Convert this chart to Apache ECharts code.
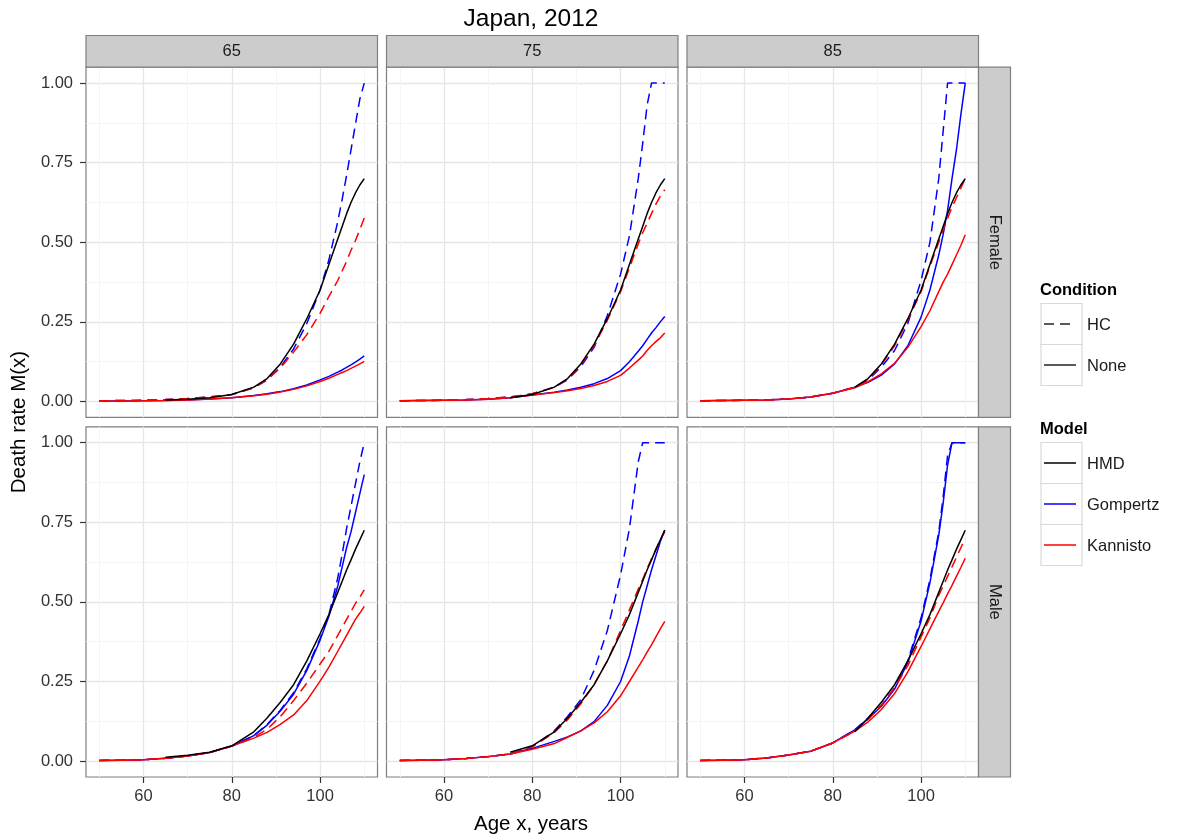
<!DOCTYPE html>
<html><head><meta charset="utf-8">
<script src="https://cdn.jsdelivr.net/npm/echarts@6/dist/echarts.min.js"></script>
<style>html,body{margin:0;padding:0;background:#fff}#c{width:1180px;height:839px}</style>
</head><body><div id="c"></div>
<script>
// ---------------- DATA ----------------
const AGES = [50,55,60,65,70,75,80,85,88,91,94,97,100,102,104,105,106,107,108,109,110];
const COL_AGES = [65, 75, 85];
const COL_LABELS = ['65', '75', '85'];
const ROW_LABELS = ['Female', 'Male'];
const X_TICKS = [60, 80, 100];
const X_MINOR = [50, 70, 90, 110];
const Y_TICKS = [0, 0.25, 0.5, 0.75, 1];
const Y_MINOR = [0.125, 0.375, 0.625, 0.875];

// Observed (HMD) death rates, same data in every column; drawn from the column's age on
const HMD_F = [0.0015,0.0022,0.003,0.005,0.007,0.012,0.022,0.045,0.072,0.118,0.18,0.26,0.35,0.43,0.51,0.55,0.59,0.625,0.655,0.68,0.70];
const HMD_M = [0.004,0.006,0.008,0.012,0.018,0.028,0.048,0.092,0.135,0.185,0.24,0.315,0.40,0.46,0.53,0.565,0.60,0.632,0.665,0.695,0.725];

// Female
const F65_GOMP_HC   = [0.002,0.003,0.004,0.006,0.009,0.014,0.022,0.043,0.068,0.108,0.165,0.245,0.35,0.445,0.565,0.635,0.71,0.79,0.87,0.95,1.0];
const F65_GOMP_NONE = [0.001,0.0015,0.002,0.003,0.005,0.008,0.012,0.019,0.024,0.031,0.040,0.052,0.068,0.079,0.092,0.099,0.107,0.115,0.124,0.133,0.143];
const F65_KANN_HC   = [0.002,0.003,0.004,0.006,0.009,0.014,0.022,0.043,0.068,0.105,0.155,0.21,0.277,0.33,0.38,0.41,0.44,0.475,0.505,0.54,0.576];
const F65_KANN_NONE = [0.001,0.0015,0.002,0.003,0.005,0.008,0.012,0.018,0.023,0.030,0.038,0.049,0.063,0.073,0.085,0.091,0.097,0.104,0.111,0.118,0.126];

const F75_GOMP_HC   = [0.002,0.003,0.004,0.006,0.009,0.014,0.024,0.045,0.068,0.11,0.17,0.27,0.40,0.52,0.70,0.81,0.93,1.0,1.0,1.0,1.0];
const F75_GOMP_NONE = [0.002,0.003,0.004,0.005,0.007,0.012,0.02,0.029,0.036,0.045,0.056,0.072,0.097,0.125,0.158,0.175,0.195,0.215,0.232,0.25,0.267];
const F75_KANN_HC   = [0.002,0.003,0.004,0.006,0.009,0.014,0.024,0.045,0.07,0.115,0.175,0.255,0.345,0.42,0.495,0.53,0.56,0.59,0.62,0.645,0.665];
const F75_KANN_NONE = [0.002,0.003,0.004,0.005,0.007,0.012,0.02,0.028,0.034,0.041,0.05,0.063,0.082,0.105,0.13,0.143,0.16,0.175,0.188,0.2,0.215];

const F85_GOMP_HC   = [0.002,0.003,0.004,0.005,0.008,0.014,0.026,0.045,0.068,0.108,0.16,0.245,0.38,0.50,0.70,0.85,1.0,1.0,1.0,1.0,1.0];
const F85_GOMP_NONE = [0.002,0.003,0.004,0.005,0.008,0.014,0.026,0.045,0.06,0.083,0.118,0.175,0.265,0.35,0.46,0.525,0.60,0.70,0.79,0.90,1.0];
const F85_KANN_HC   = [0.002,0.003,0.004,0.005,0.008,0.014,0.026,0.045,0.07,0.115,0.175,0.255,0.345,0.425,0.50,0.54,0.575,0.61,0.64,0.67,0.70];
const F85_KANN_NONE = [0.002,0.003,0.004,0.005,0.008,0.014,0.026,0.043,0.062,0.087,0.12,0.17,0.235,0.285,0.345,0.375,0.40,0.43,0.46,0.49,0.524];

// Male
const M65_GOMP_HC   = [0.002,0.003,0.004,0.009,0.016,0.027,0.047,0.08,0.115,0.16,0.215,0.29,0.385,0.46,0.575,0.65,0.73,0.80,0.87,0.94,1.0];
const M65_GOMP_NONE = [0.002,0.003,0.004,0.009,0.016,0.027,0.047,0.08,0.113,0.157,0.21,0.285,0.38,0.455,0.55,0.61,0.67,0.72,0.78,0.84,0.90];
const M65_KANN_HC   = [0.002,0.003,0.004,0.009,0.016,0.027,0.047,0.074,0.10,0.14,0.19,0.245,0.305,0.345,0.395,0.42,0.445,0.47,0.495,0.515,0.538];
const M65_KANN_NONE = [0.002,0.003,0.004,0.009,0.016,0.027,0.047,0.072,0.09,0.115,0.145,0.19,0.251,0.295,0.345,0.37,0.395,0.42,0.445,0.465,0.486];

const M75_GOMP_HC   = [0.002,0.003,0.004,0.008,0.014,0.022,0.045,0.095,0.14,0.193,0.285,0.41,0.585,0.73,0.94,1.0,1.0,1.0,1.0,1.0,1.0];
const M75_GOMP_NONE = [0.002,0.003,0.004,0.008,0.014,0.022,0.04,0.062,0.076,0.095,0.124,0.175,0.25,0.33,0.44,0.50,0.55,0.60,0.645,0.69,0.726];
const M75_KANN_HC   = [0.002,0.003,0.004,0.008,0.014,0.022,0.045,0.09,0.13,0.18,0.24,0.315,0.41,0.475,0.54,0.57,0.605,0.635,0.665,0.695,0.72];
const M75_KANN_NONE = [0.002,0.003,0.004,0.008,0.014,0.022,0.037,0.055,0.075,0.095,0.12,0.155,0.205,0.25,0.295,0.318,0.342,0.365,0.39,0.415,0.439];

const M85_GOMP_HC   = [0.002,0.003,0.004,0.01,0.019,0.031,0.057,0.098,0.135,0.175,0.23,0.315,0.45,0.57,0.72,0.83,0.96,1.0,1.0,1.0,1.0];
const M85_GOMP_NONE = [0.002,0.003,0.004,0.01,0.019,0.031,0.057,0.098,0.133,0.172,0.226,0.31,0.44,0.56,0.71,0.81,0.93,1.0,1.0,1.0,1.0];
const M85_KANN_HC   = [0.002,0.003,0.004,0.01,0.019,0.031,0.057,0.094,0.13,0.175,0.23,0.30,0.39,0.45,0.52,0.55,0.58,0.61,0.64,0.67,0.70];
const M85_KANN_NONE = [0.002,0.003,0.004,0.01,0.019,0.031,0.057,0.094,0.123,0.162,0.212,0.28,0.36,0.415,0.47,0.497,0.525,0.552,0.58,0.608,0.637];

const PANELS = [
  {row:0,col:0,hmd:HMD_F,gHC:F65_GOMP_HC,gN:F65_GOMP_NONE,kHC:F65_KANN_HC,kN:F65_KANN_NONE},
  {row:0,col:1,hmd:HMD_F,gHC:F75_GOMP_HC,gN:F75_GOMP_NONE,kHC:F75_KANN_HC,kN:F75_KANN_NONE},
  {row:0,col:2,hmd:HMD_F,gHC:F85_GOMP_HC,gN:F85_GOMP_NONE,kHC:F85_KANN_HC,kN:F85_KANN_NONE},
  {row:1,col:0,hmd:HMD_M,gHC:M65_GOMP_HC,gN:M65_GOMP_NONE,kHC:M65_KANN_HC,kN:M65_KANN_NONE},
  {row:1,col:1,hmd:HMD_M,gHC:M75_GOMP_HC,gN:M75_GOMP_NONE,kHC:M75_KANN_HC,kN:M75_KANN_NONE},
  {row:1,col:2,hmd:HMD_M,gHC:M85_GOMP_HC,gN:M85_GOMP_NONE,kHC:M85_KANN_HC,kN:M85_KANN_NONE}
];

// ---------------- LAYOUT / STYLE ----------------
const FONT = "'Liberation Sans', Arial, Helvetica, sans-serif";
const COL_LEFT = [86, 386.5, 687];
const PANEL_W = 291.5;
const ROW_TOP = [67.2, 426.8];
const PANEL_H = 350.2;
const STRIP_TOP = 35.5;
const STRIP_W = 32;
const BLUE = '#0000ff', RED = '#ff0000', BLACK = '#000000';
const DASH = [10, 6];
const LW = 1.5;

const grids = [], xAxes = [], yAxes = [], series = [];
PANELS.forEach((p, i) => {
  grids.push({left: COL_LEFT[p.col], top: ROW_TOP[p.row], width: PANEL_W, height: PANEL_H,
    show: true, backgroundColor: '#ffffff', borderColor: '#7f7f7f', borderWidth: 1.2});
  const bottomRow = p.row === 1, leftCol = p.col === 0;
  xAxes.push({gridIndex: i, type: 'value', min: 47, max: 113, position: 'bottom',
    axisLine: {show: false, onZero: false},
    axisTick: {show: bottomRow, customValues: X_TICKS, length: 6, lineStyle: {color: '#333', width: 1.2}},
    axisLabel: {show: bottomRow, customValues: X_TICKS, margin: 11, color: '#333', fontSize: 16.5, fontFamily: FONT},
    splitLine: {show: true, lineStyle: {color: '#e6e6e6', width: 1.3}}
  });
  yAxes.push({gridIndex: i, type: 'value', min: -0.05, max: 1.05, position: 'left',
    axisLine: {show: false, onZero: false},
    axisTick: {show: leftCol, customValues: Y_TICKS, length: 6, lineStyle: {color: '#333', width: 1.2}},
    axisLabel: {show: leftCol, customValues: Y_TICKS, margin: 13, color: '#333', fontSize: 16.5, fontFamily: FONT,
      formatter: v => Number(v).toFixed(2)},
    splitLine: {show: true, lineStyle: {color: '#e6e6e6', width: 1.3}}
  });
});
// minor grid lines on companion axes
PANELS.forEach((p, i) => {
  xAxes.push({gridIndex: i, type: 'value', min: 47, max: 113, position: 'top',
    axisLine: {show: false, onZero: false},
    axisTick: {show: false, customValues: X_MINOR},
    axisLabel: {show: false, customValues: X_MINOR},
    splitLine: {show: true, lineStyle: {color: '#f4f4f4', width: 1}}
  });
  yAxes.push({gridIndex: i, type: 'value', min: -0.05, max: 1.05, position: 'right',
    axisLine: {show: false, onZero: false},
    axisTick: {show: false, customValues: Y_MINOR},
    axisLabel: {show: false, customValues: Y_MINOR},
    splitLine: {show: true, lineStyle: {color: '#f4f4f4', width: 1}}
  });
});

function pairs(vals, start) {
  const out = [];
  AGES.forEach((a, k) => { if (a >= start && vals[k] != null) out.push([a, vals[k]]); });
  return out;
}
function line(i, name, vals, color, dashed, start, z) {
  return {type: 'line', name: name, xAxisIndex: i, yAxisIndex: i, data: pairs(vals, start),
    showSymbol: false, symbol: 'none', silent: true, animation: false, z: z,
    lineStyle: {color: color, width: LW, type: dashed ? DASH : 'solid'}};
}
PANELS.forEach((p, i) => {
  series.push(line(i, 'Gompertz HC', p.gHC, BLUE, true, 50, 2));
  series.push(line(i, 'Gompertz None', p.gN, BLUE, false, 50, 2));
  series.push(line(i, 'Kannisto HC', p.kHC, RED, true, 50, 3));
  series.push(line(i, 'Kannisto None', p.kN, RED, false, 50, 3));
  series.push(line(i, 'HMD', p.hmd, BLACK, false, COL_AGES[p.col], 4));
});

// ---------------- GRAPHICS (strips, titles, legend) ----------------
const g = [];
function txt(x, y, text, size, opts) {
  opts = opts || {};
  return {type: 'text', x: x, y: y, rotation: opts.rot || 0, silent: true, z: 10,
    style: {text: text, fill: opts.color || '#000', font: (opts.bold ? 'bold ' : '') + size + 'px ' + FONT,
      align: opts.align || 'center', verticalAlign: 'middle',
      textAlign: opts.align || 'center', textVerticalAlign: 'middle'}};
}
// top strips
COL_LABELS.forEach((lab, c) => {
  g.push({type: 'rect', silent: true, z: 5, shape: {x: COL_LEFT[c], y: STRIP_TOP, width: PANEL_W, height: ROW_TOP[0] - STRIP_TOP},
    style: {fill: '#cccccc', stroke: '#7f7f7f', lineWidth: 1.2}});
  g.push(txt(COL_LEFT[c] + PANEL_W / 2, (STRIP_TOP + ROW_TOP[0]) / 2 + 0.5, lab, 16.5, {color: '#1a1a1a'}));
});
// right strips
ROW_LABELS.forEach((lab, r) => {
  const x0 = COL_LEFT[2] + PANEL_W;
  g.push({type: 'rect', silent: true, z: 5, shape: {x: x0, y: ROW_TOP[r], width: STRIP_W, height: PANEL_H},
    style: {fill: '#cccccc', stroke: '#7f7f7f', lineWidth: 1.2}});
  g.push(txt(x0 + STRIP_W / 2, ROW_TOP[r] + PANEL_H / 2, lab, 16.5, {color: '#1a1a1a', rot: -Math.PI / 2}));
});
// titles
g.push(txt(531, 19, 'Japan, 2012', 24.5));
g.push(txt(531, 824, 'Age x, years', 20.5));
g.push(txt(19, 422, 'Death rate M(x)', 20.5, {rot: Math.PI / 2}));

// legend
const LEG_X = 1041, KEY = 41, LAB_X = 1087;
const LEGENDS = [
  {title: 'Condition', titleY: 290, top: 303.5, items: [
    {label: 'HC', color: '#222', dashed: true}, {label: 'None', color: '#222', dashed: false}]},
  {title: 'Model', titleY: 429.5, top: 442.5, items: [
    {label: 'HMD', color: BLACK, dashed: false}, {label: 'Gompertz', color: BLUE, dashed: false},
    {label: 'Kannisto', color: RED, dashed: false}]}
];
LEGENDS.forEach(L => {
  g.push(txt(LEG_X - 1, L.titleY, L.title, 16.5, {bold: true, align: 'left'}));
  L.items.forEach((it, k) => {
    const y0 = L.top + k * KEY;
    g.push({type: 'rect', silent: true, z: 5, shape: {x: LEG_X, y: y0, width: KEY, height: KEY},
      style: {fill: '#ffffff', stroke: '#d9d9d9', lineWidth: 1.2}});
    g.push({type: 'line', silent: true, z: 6, shape: {x1: LEG_X + 3, y1: y0 + KEY / 2, x2: LEG_X + KEY - 6, y2: y0 + KEY / 2},
      style: {stroke: it.color, lineWidth: LW, lineDash: it.dashed ? DASH : null}});
    g.push(txt(LAB_X, y0 + KEY / 2 + 1.5, it.label, 16.5, {align: 'left', color: '#1a1a1a'}));
  });
});

const chart = echarts.init(document.getElementById('c'), null, {renderer: 'canvas'});
chart.setOption({
  animation: false,
  backgroundColor: '#ffffff',
  grid: grids, xAxis: xAxes, yAxis: yAxes, series: series,
  graphic: {elements: g}
});
</script></body></html>
